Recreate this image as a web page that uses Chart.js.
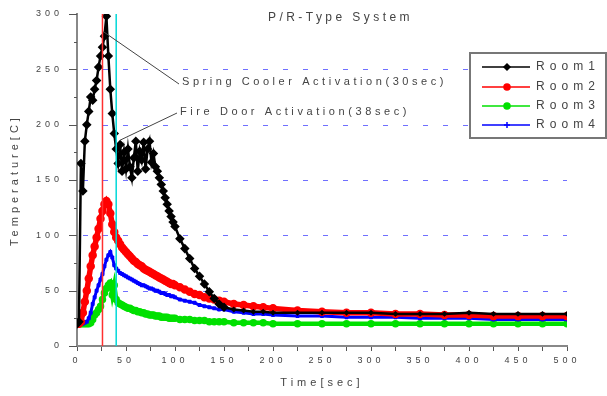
<!DOCTYPE html>
<html lang="en">
<head>
<meta charset="UTF-8">
<title>P/R-Type System</title>
<script src="https://cdn.jsdelivr.net/npm/chart.js"></script>
<style>
  html, body { margin: 0; padding: 0; background: #fff; }
</style>
</head>
<body>
<canvas id="tempChart" width="607" height="396"></canvas>
<script>
// time axis (sec)
const times = [0,2,4,6,8,10,12,14,16,18,20,22,24,26,28,30,32,34,36,38,40,42,44,46,48,50,
  52,54,56,58,60,62,64,66,68,70,72,74,76,78,80,82,84,86,88,90,92,94,96,98,100,
  105,110,115,120,125,130,135,140,145,150,
  160,170,180,190,200,
  225,250,275,300,325,350,375,400,425,450,475,500];

// temperatures
const room1 = [20,22,165,140,185,200,212,225,222,232,240,252,262,270,280,298,262,232,210,192,178,
  165,182,158,175,160,178,162,152,170,185,158,176,168,184,160,178,185,166,174,162,
  158,152,146,140,134,128,122,117,112,108,
  97,88,79,70,63,56,49,43,38,35,
  33,32,31,31,30,
  30,30,30,30,29,29,29,30,29,29,29,29];
const room2 = [20,20,22,30,40,50,61,72,82,90,98,106,115,122,128,131,128,120,110,103,98,
  95,92,89,87,85,83,81,79,77,76,74,73,72,70,69,68,67,66,65,64,
  63,62,61,60,59,58,57,56,56,55,
  53,51,49,47,46,44,43,42,41,40,
  38,37,36,35,34,
  32,31,30,30,29,29,28,28,27,27,27,27];
const room3 = [20,20,20,20,20,20,20,21,24,28,30,33,36,42,48,52,55,57,46,55,42,
  39,38,37,36,35,34,34,33,32,32,31,31,30,30,29,29,28,28,28,27,
  27,27,26,26,26,26,25,25,25,25,
  24,24,24,23,23,23,22,22,22,22,
  21,21,21,21,20,
  20,20,20,20,20,20,20,20,20,20,20,20];
const room4 = [20,20,20,20,21,22,25,30,38,44,50,55,60,65,72,78,82,85,80,73,70,
  68,66,65,64,63,62,61,60,59,58,57,56,55,55,54,53,52,52,51,50,
  50,49,48,48,47,46,46,45,45,44,
  42,41,40,39,37,36,35,34,33,33,
  31,30,29,29,28,
  27,27,26,26,26,25,25,25,24,24,24,24];

const roomNames = ['Room1', 'Room2', 'Room3', 'Room4'];
const gridValues = [50, 100, 150, 200, 250];
const yTickValues = [0,25,50,75,100,125,150,175,200,225,250,275,300];
const sprinklerTime = 26;   // red marker line
const fireDoorTime = 40;    // cyan marker line
const sprinklerPoint = { x: 27, y: 284 };
const fireDoorPoint = { x: 44, y: 186 };

function series(vals) {
  return vals.map((v, i) => ({ x: times[i], y: v }));
}
function vline(t) {
  return [{ x: t, y: 0 }, { x: t, y: 300 }];
}

const FONT = "'Liberation Sans', 'DejaVu Sans', sans-serif";

// draw text stretched to a given width (the original uses very wide letter spacing)
function spaced(ctx, text, x, y, width) {
  ctx.letterSpacing = '0px';
  const w = ctx.measureText(text).width;
  ctx.letterSpacing = ((width - w) / text.length) + 'px';
  ctx.textAlign = 'left';
  ctx.textBaseline = 'middle';
  ctx.fillText(text, x, y);
  ctx.letterSpacing = '0px';
}

const decorPlugin = {
  id: 'decor',
  beforeDraw(chart) {
    chart.ctx.letterSpacing = '4px';
  },
  beforeDatasetsDraw(chart) {
    const ctx = chart.ctx, ys = chart.scales.y, area = chart.chartArea;
    ctx.save();
    // blue dotted horizontal grid
    ctx.strokeStyle = '#7070ff';
    ctx.lineWidth = 1;
    ctx.setLineDash([5, 15]);
    ctx.lineDashOffset = -6;
    gridValues.forEach(v => {
      const y = Math.round(ys.getPixelForValue(v)) + 0.5;
      ctx.beginPath();
      ctx.moveTo(area.left, y);
      ctx.lineTo(area.right, y);
      ctx.stroke();
    });
    // y axis line with major/minor ticks
    ctx.setLineDash([]);
    ctx.strokeStyle = '#888';
    ctx.lineWidth = 2;
    ctx.beginPath();
    ctx.moveTo(area.left, ys.getPixelForValue(300) - 1);
    ctx.lineTo(area.left, ys.getPixelForValue(0) + 1);
    ctx.stroke();
    ctx.strokeStyle = '#555';
    ctx.lineWidth = 1;
    yTickValues.forEach(v => {
      const y = Math.round(ys.getPixelForValue(v)) + 0.5;
      const len = v % 50 === 0 ? 8 : 3;
      ctx.beginPath();
      ctx.moveTo(area.left - len, y);
      ctx.lineTo(area.left, y);
      ctx.stroke();
    });
    ctx.restore();
  },
  afterDraw(chart) {
    const ctx = chart.ctx;
    const xs = chart.scales.x, ys = chart.scales.y;
    ctx.save();
    ctx.fillStyle = '#444';

    ctx.font = '12px ' + FONT;
    spaced(ctx, 'P/R-Type System', 268, 18, 145);

    // annotation leaders
    ctx.strokeStyle = '#444';
    ctx.lineWidth = 1;
    ctx.beginPath();
    ctx.moveTo(xs.getPixelForValue(sprinklerPoint.x), ys.getPixelForValue(sprinklerPoint.y));
    ctx.lineTo(179, 84);
    ctx.moveTo(xs.getPixelForValue(fireDoorPoint.x), ys.getPixelForValue(fireDoorPoint.y));
    ctx.lineTo(177, 113);
    ctx.stroke();

    ctx.font = '11px ' + FONT;
    spaced(ctx, 'Spring Cooler Activation(30sec)', 182, 82, 265);
    spaced(ctx, 'Fire Door Activation(38sec)', 180, 112, 230);

    // legend box
    ctx.fillStyle = '#fff';
    ctx.fillRect(470, 53, 136, 85);
    ctx.strokeStyle = '#777';
    ctx.lineWidth = 2;
    ctx.strokeRect(470, 53, 136, 85);
    const rowsY = [67, 87, 106, 125];
    chart.data.datasets.slice(0, 4).forEach((ds, i) => {
      const y = rowsY[i];
      ctx.strokeStyle = ds.borderColor;
      ctx.fillStyle = ds.borderColor;
      ctx.lineWidth = 1.5;
      ctx.beginPath();
      ctx.moveTo(482, y);
      ctx.lineTo(530, y);
      ctx.stroke();
      Chart.helpers.drawPoint(ctx, {
        pointStyle: ds.pointStyle, radius: 3, rotation: 0, borderWidth: 1.5
      }, 507, y);
      ctx.fillStyle = '#444';
      ctx.font = '12px ' + FONT;
      spaced(ctx, ds.label, 536, y, 64);
    });
    ctx.restore();
  }
};

const early = r => (c => (c.raw && c.raw.x <= 150 ? r : 1.2));

const ctx = document.getElementById('tempChart').getContext('2d');
new Chart(ctx, {
  type: 'line',
  data: {
    datasets: [
      { label: roomNames[0], data: series(room1), borderColor: '#000', backgroundColor: '#000',
        pointBackgroundColor: '#000', pointBorderColor: '#000', pointStyle: 'rectRot',
        pointRadius: early(3), borderWidth: 2.5, order: 1 },
      { label: roomNames[1], data: series(room2), borderColor: '#ff0000', backgroundColor: '#ff0000',
        pointBackgroundColor: '#ff0000', pointBorderColor: '#ff0000', pointStyle: 'circle',
        pointRadius: 1.5, borderWidth: 5.5, order: 2 },
      { label: roomNames[2], data: series(room3), borderColor: '#00e000', backgroundColor: '#00e000',
        pointBackgroundColor: '#00e000', pointBorderColor: '#00e000', pointStyle: 'circle',
        pointRadius: 1.5, borderWidth: 4.5, order: 4 },
      { label: roomNames[3], data: series(room4), borderColor: '#0000ff', backgroundColor: '#0000ff',
        pointBackgroundColor: '#0000ff', pointBorderColor: '#0000ff', pointStyle: 'cross',
        pointRadius: 2, borderWidth: 3, order: 3 },
      { label: 'sprinkler', data: vline(sprinklerTime), borderColor: '#ff3030',
        borderWidth: 1.5, pointRadius: 0, order: 0 },
      { label: 'firedoor', data: vline(fireDoorTime), borderColor: '#00d8d8',
        borderWidth: 1.5, pointRadius: 0, order: 0 }
    ]
  },
  options: {
    responsive: false,
    animation: false,
    layout: { padding: { left: 0, right: 40, top: 14, bottom: 0 } },
    plugins: { legend: { display: false }, tooltip: { enabled: false } },
    scales: {
      x: {
        type: 'linear', min: 0, max: 500,
        afterFit: s => { s.height = 50; },
        ticks: {
          stepSize: 25, autoSkip: false, maxRotation: 0, padding: 4,
          color: '#444', font: { family: FONT, size: 9 },
          callback: v => (v % 50 === 0 ? v : '')
        },
        grid: { drawOnChartArea: false, tickColor: '#555', tickLength: 5 },
        border: { color: '#888', width: 2 },
        title: { display: true, text: 'Time[sec]', color: '#444',
          font: { family: FONT, size: 11 }, padding: { top: 4, bottom: 6 } }
      },
      y: {
        min: 0, max: 300,
        afterFit: s => { s.width = 77; },
        ticks: {
          stepSize: 25, autoSkip: false, padding: 7,
          color: '#444', font: { family: FONT, size: 9 },
          callback: v => (v % 50 === 0 ? v : '')
        },
        grid: { drawOnChartArea: false, tickLength: 7, color: 'rgba(0,0,0,0)', tickColor: 'rgba(0,0,0,0)' },
        border: { display: false },
        title: { display: true, text: 'Temperature[C]', color: '#444',
          font: { family: FONT, size: 11 }, padding: { top: 8, bottom: 0 } }
      }
    }
  },
  plugins: [decorPlugin]
});
</script>
</body>
</html>
